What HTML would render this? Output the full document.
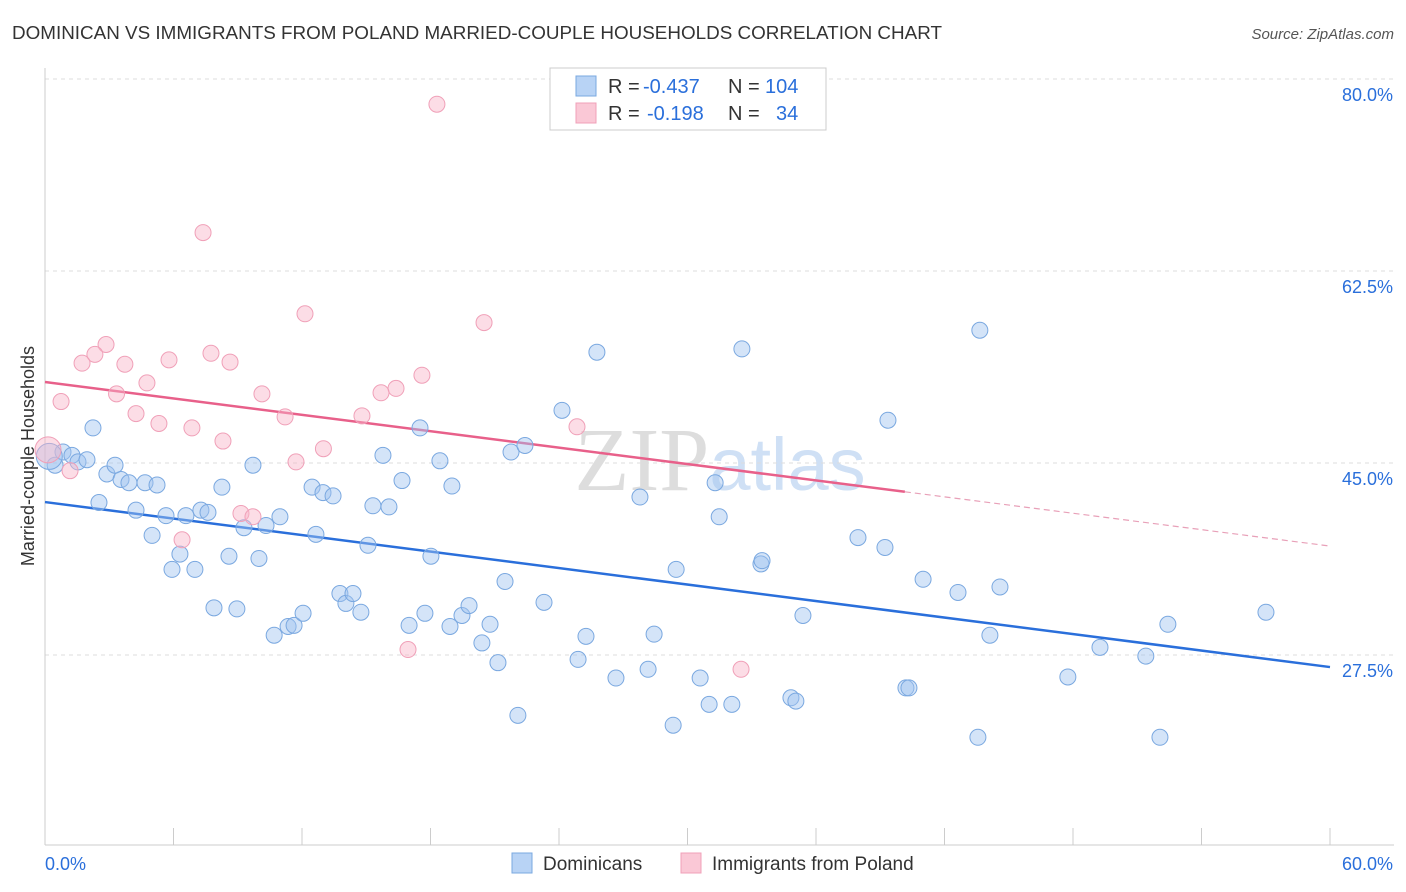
<!DOCTYPE html>
<html><head><meta charset="utf-8"><style>
body{margin:0;background:#fff;font-family:"Liberation Sans",sans-serif;}
svg{display:block}
</style></head><body>
<svg id="chart" width="1406" height="892">
<text x="12" y="39" font-size="18" fill="#333" textLength="930" lengthAdjust="spacingAndGlyphs">DOMINICAN VS IMMIGRANTS FROM POLAND MARRIED-COUPLE HOUSEHOLDS CORRELATION CHART</text>
<text x="1394" y="39" font-size="15" fill="#555" text-anchor="end" font-style="italic">Source: ZipAtlas.com</text>
<text x="720" y="490" font-size="90" fill="#ddd" text-anchor="middle" font-family="Liberation Serif,serif">ZIP<tspan fill="#cfe0f5" font-family="Liberation Sans,sans-serif" font-size="74">atlas</tspan></text>
<text transform="translate(34,456) rotate(-90)" font-size="18" fill="#333" text-anchor="middle">Married-couple Households</text>
<g id="grid"></g><g id="axes"></g><g id="lines"></g><g id="pts"></g>
<g>
<rect x="550" y="68" width="276" height="62" fill="#fff" stroke="#ccc"/>
<rect x="576" y="76" width="20" height="20" fill="#b8d3f5" stroke="#7aa8e0"/>
<rect x="576" y="103" width="20" height="20" fill="#fac8d6" stroke="#f0a0b8"/>
<text x="608" y="93" font-size="20" fill="#333">R =</text>
<text x="643" y="93" font-size="20" fill="#2a6fdb">-0.437</text>
<text x="728" y="93" font-size="20" fill="#333">N =</text>
<text x="765" y="93" font-size="20" fill="#2a6fdb">104</text>
<text x="608" y="120" font-size="20" fill="#333">R =</text>
<text x="647" y="120" font-size="20" fill="#2a6fdb">-0.198</text>
<text x="728" y="120" font-size="20" fill="#333">N =</text>
<text x="776" y="120" font-size="20" fill="#2a6fdb">34</text>
</g>
<g>
<rect x="512" y="853" width="20" height="20" fill="#b8d3f5" stroke="#7aa8e0"/>
<text x="543" y="870" font-size="19" fill="#333">Dominicans</text>
<rect x="681" y="853" width="20" height="20" fill="#fac8d6" stroke="#f0a0b8"/>
<text x="712" y="870" font-size="19" fill="#333">Immigrants from Poland</text>
</g>
</svg>
<script>
const yTicks=[27.5,45.0,62.5,80.0];
const xTickLabels=["0.0%","60.0%"];
const blueX=[0.47,0.84,1.26,1.54,1.96,2.24,2.52,2.89,3.27,3.55,3.92,4.25,4.67,5.0,5.23,5.65,5.93,6.3,6.58,7.0,7.28,7.61,7.89,8.26,8.59,8.96,9.29,9.71,9.99,10.32,10.7,10.97,11.35,11.63,12.05,12.47,12.65,12.98,13.45,13.77,14.05,14.38,14.75,15.08,15.31,15.78,16.06,16.67,17.0,17.51,17.74,18.02,18.44,18.91,19.0,19.47,19.8,20.4,20.78,21.15,21.48,21.76,22.08,22.41,23.3,24.14,24.89,25.26,25.77,26.66,27.78,28.16,28.44,29.33,29.47,30.59,31.01,31.29,31.48,32.07,32.54,33.43,33.48,34.83,35.06,35.39,37.96,39.22,39.36,40.2,40.34,41.0,42.63,43.56,43.65,44.12,44.59,47.76,49.26,51.4,52.06,52.43,57.01,0.2];
const blueY=[44.8,46.0,45.7,45.1,45.3,48.2,41.4,44.0,44.8,43.5,43.2,40.7,43.2,38.4,43.0,40.2,35.3,36.7,40.2,35.3,40.7,40.5,31.8,42.8,36.5,31.7,39.1,44.8,36.3,39.3,29.3,40.1,30.1,30.2,31.3,42.8,38.5,42.3,42.0,33.1,32.2,33.1,31.4,37.5,41.1,45.7,41.0,43.4,30.2,48.2,31.3,36.5,45.2,30.1,42.9,31.1,32.0,28.6,30.3,26.8,34.2,46.0,22.0,46.6,32.3,49.8,27.1,29.2,55.1,25.4,41.9,26.2,29.4,21.1,35.3,25.4,23.0,43.2,40.1,23.0,55.4,35.8,36.1,23.6,23.3,31.1,38.2,37.3,48.9,24.5,24.5,34.4,33.2,20.0,57.1,29.3,33.7,25.5,28.2,27.4,20.0,30.3,31.4,45.6];
const pinkX=[18.3,7.38,12.14,20.5,2.85,2.33,1.73,3.73,5.79,7.75,8.64,4.76,3.34,0.75,10.13,17.6,16.39,15.69,4.25,11.21,14.8,5.32,6.86,8.31,13.0,24.84,11.72,1.17,0.14,9.15,9.71,6.4,16.95,32.5];
const pinkY=[77.7,66.0,58.6,57.8,55.8,54.9,54.1,54.0,54.4,55.0,54.2,52.3,51.3,50.6,51.3,53.0,51.8,51.4,49.5,49.2,49.3,48.6,48.2,47.0,46.3,48.3,45.1,44.3,46.2,40.4,40.1,38.0,28.0,26.2];
const blueTrend=[41.44,26.4];
const pinkTrend=[52.38,37.43];
const pinkSolidEnd=40.15;

const NS="http://www.w3.org/2000/svg";
const X0=45,X1=1330,YB=845;
const xs=v=>X0+v/60*(X1-X0);
const ys=v=>463-(v-45)*192/17.5;
function mk(t,a,p){const e=document.createElementNS(NS,t);for(const k in a)e.setAttribute(k,a[k]);document.getElementById(p).appendChild(e);return e;}
yTicks.forEach(v=>{
 const l=mk('line',{x1:X0,x2:1394,y1:ys(v),y2:ys(v),stroke:'#ddd','stroke-dasharray':'4,4'},'grid');
 
 
 const t=mk('text',{x:1393,y:ys(v)+22,'font-size':18,fill:'#2a6fdb','text-anchor':'end'},'axes');
 t.textContent=v.toFixed(1)+'%';
 
 
});
mk('line',{x1:X0,x2:X0,y1:68,y2:YB,stroke:'#ccc'},'axes');
mk('line',{x1:X0,x2:1394,y1:YB,y2:YB,stroke:'#ccc'},'axes');
for(let i=0;i<=10;i++){const l=mk('line',{x1:xs(i*6),x2:xs(i*6),y1:YB,y2:828,stroke:'#ccc'},'axes');
 
 }
[[0,45,'start'],[1,1393,'end']].forEach(([i,x,a])=>{const t=mk('text',{x:x,y:870,'font-size':18,fill:'#2a6fdb','text-anchor':a},'axes');t.textContent=xTickLabels[i];
 
 });
function pts(X,Y,fill,stroke,name){X.forEach((x,i)=>{const big=(x<0.3);const c=mk('circle',{cx:xs(x),cy:ys(Y[i]),r:big?13:8,fill:fill,stroke:stroke,'stroke-width':1},'pts');
 
 });}
pts(blueX,blueY,'rgba(160,196,240,0.45)','#7aa8e0','dominican-point');
pts(pinkX,pinkY,'rgba(248,180,200,0.45)','#f0a0b8','poland-point');
const bl=mk('line',{x1:xs(0),y1:ys(blueTrend[0]),x2:xs(60),y2:ys(blueTrend[1]),stroke:'#2a6fdb','stroke-width':2.5},'lines');


const pf=v=>pinkTrend[0]+(pinkTrend[1]-pinkTrend[0])*v/60;
const pl=mk('line',{x1:xs(0),y1:ys(pinkTrend[0]),x2:xs(pinkSolidEnd),y2:ys(pf(pinkSolidEnd)),stroke:'#e8608a','stroke-width':2.5},'lines');


const pd=mk('line',{x1:xs(pinkSolidEnd),y1:ys(pf(pinkSolidEnd)),x2:xs(60),y2:ys(pinkTrend[1]),stroke:'#e8a0b8','stroke-width':1.2,'stroke-dasharray':'6,4'},'lines');


</script>
</body></html>
